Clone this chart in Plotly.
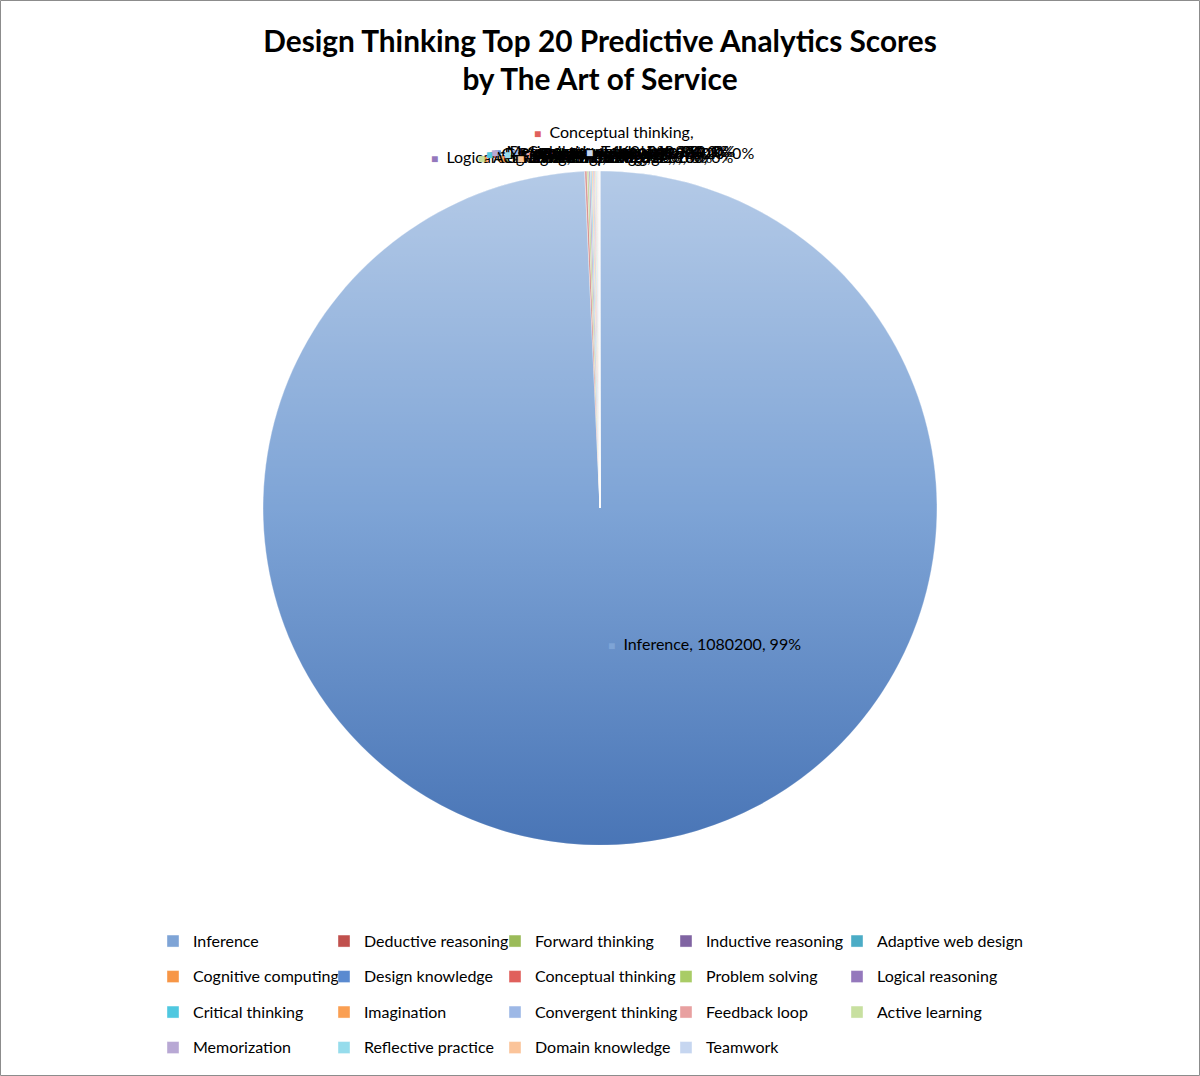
import base64
import plotly.graph_objects as go

categories = ["Inference", "Deductive reasoning", "Forward thinking", "Inductive reasoning",
              "Adaptive web design", "Cognitive computing", "Design knowledge", "Conceptual thinking",
              "Problem solving", "Logical reasoning", "Critical thinking", "Imagination",
              "Convergent thinking", "Feedback loop", "Active learning", "Memorization",
              "Reflective practice", "Domain knowledge", "Teamwork"]
scores = [1080200, 1180, 960, 820, 720, 620, 540, 480, 420, 370, 330, 290, 250, 220, 190, 160, 130, 100, 80]

colors = ["#7EA4D6", "#C0504D", "#9BBB59", "#8064A2", "#4BACC6", "#F79646",
          "#5A8AD0", "#E0605C", "#A9CC66", "#9478BC", "#4FC8E0", "#FA9F52",
          "#9DB8E6", "#E8A0A0", "#C8E0A0", "#B8A8D4", "#96DCEC", "#FBC49A", "#C6D6F0"]

FONT = "Lato, Open Sans, sans-serif"
W, H = 1200, 1076
ML, MR = 150, 170          # horizontal margins (they limit the legend to 5 columns)
PW = W - ML - MR           # paper width in px


def fx(px):
    """figure pixel x -> paper fraction"""
    return (px - ML) / PW


def fy(py):
    """figure pixel y (from top) -> paper fraction"""
    return 1 - py / H


# pie placement
dom_x = [fx(263), fx(937)]
dom_y = [fy(845), fy(171)]

legend_labels = ["<span style='font-size:16px;baseline-shift:4px'>%s</span>" % c for c in categories]

fig = go.Figure(go.Pie(
    labels=legend_labels,
    values=scores,
    sort=False,
    direction="clockwise",
    rotation=0,
    marker=dict(colors=colors, line=dict(color="white", width=0.4)),
    textinfo="none",
    hoverinfo="label+value+percent",
    domain=dict(x=dom_x, y=dom_y),
    showlegend=True,
))

# Excel-like shading gradient laid over the pie disk
svg = ("<svg xmlns='http://www.w3.org/2000/svg' width='1000' height='1000' viewBox='0 0 1000 1000'>"
       "<defs><linearGradient id='g' x1='0' y1='0' x2='0' y2='1'>"
       "<stop offset='0' stop-color='rgb(255,255,255)' stop-opacity='0.42'/>"
       "<stop offset='0.5' stop-color='rgb(255,255,255)' stop-opacity='0'/>"
       "<stop offset='0.5' stop-color='rgb(20,70,150)' stop-opacity='0'/>"
       "<stop offset='1' stop-color='rgb(20,70,150)' stop-opacity='0.5'/>"
       "</linearGradient></defs>"
       "<circle cx='500' cy='500' r='500' fill='url(#g)'/></svg>")
svg_uri = "data:image/svg+xml;base64," + base64.b64encode(svg.encode()).decode()

side_px = min((dom_x[1] - dom_x[0]) * PW, (dom_y[1] - dom_y[0]) * H)
cx = (dom_x[0] + dom_x[1]) / 2
cy = (dom_y[0] + dom_y[1]) / 2

total = sum(scores)
annotations = []


def key(i):
    return "<span style='color:%s;font-size:12px'>■</span>" % colors[i]


def label_text(i):
    pct = round(scores[i] / total * 100)
    return "%s  %s, %d, %d%%" % (key(i), categories[i], scores[i], pct)


# Inference label inside the pie
annotations.append(dict(text=label_text(0), x=fx(606), y=fy(643), xref="paper", yref="paper",
                        xanchor="left", yanchor="middle", showarrow=False,
                        font=dict(family=FONT, size=16, color="black")))

# crowded labels of the tiny slices (overlapping, as in the original)
for i in range(1, len(categories)):
    name = categories[i]
    pct = round(scores[i] / total * 100)
    if name == "Conceptual thinking":
        txt = "%s  %s,<br>%d, %d%%" % (key(i), name, scores[i], pct)
        annotations.append(dict(text=txt, x=fx(532), y=fy(120), xref="paper", yref="paper",
                                xanchor="left", yanchor="top", align="left", showarrow=False,
                                font=dict(family=FONT, size=16, color="black")))
        continue
    if name == "Logical reasoning":
        xl, yl = 429, 156
    elif name == "Teamwork":
        xl, yl = 584, 150
    else:
        xl = 474 + (i * 13) % 60
        yl = 150 + (i % 3) * 3
    annotations.append(dict(text=label_text(i), x=fx(xl), y=fy(yl), xref="paper", yref="paper",
                            xanchor="left", yanchor="middle", showarrow=False,
                            font=dict(family=FONT, size=16, color="black")))

# invisible, hair-thin legend title: only widens the legend box so the last column is not clipped
legend_spacer = "M" * 1080

fig.update_layout(
    width=W, height=H,
    margin=dict(l=ML, r=MR, t=0, b=0),
    paper_bgcolor="white",
    plot_bgcolor="white",
    font=dict(family=FONT, size=16, color="black"),
    title=dict(text="<b>Design Thinking Top 20 Predictive Analytics Scores<br>by The Art of Service</b>",
               x=0.5, xanchor="center", y=1 - 51.5 / H, yanchor="middle",
               font=dict(family=FONT, size=29.8, color="black")),
    legend=dict(orientation="h", x=fx(153), xanchor="left", y=fy(994), yanchor="middle",
                entrywidth=126, entrywidthmode="pixels",
                font=dict(family=FONT, size=25, color="black"),
                title=dict(text=legend_spacer, side="top",
                           font=dict(family=FONT, size=1, color="rgba(0,0,0,0)")),
                traceorder="normal"),
    images=[dict(source=svg_uri, xref="paper", yref="paper", x=cx, y=cy,
                 sizex=side_px / PW, sizey=side_px / H, xanchor="center", yanchor="middle",
                 sizing="stretch", layer="above")],
    annotations=annotations,
    shapes=[dict(type="rect", xref="paper", yref="paper", x0=fx(0.5), y0=fy(H - 0.5),
                 x1=fx(W - 0.5), y1=fy(0.5), line=dict(color="#8C8C8C", width=1))],
)

fig.write_html("out.html", config={"displayModeBar": False},
               post_script="document.body.style.margin='0';document.body.style.overflow='hidden';")
